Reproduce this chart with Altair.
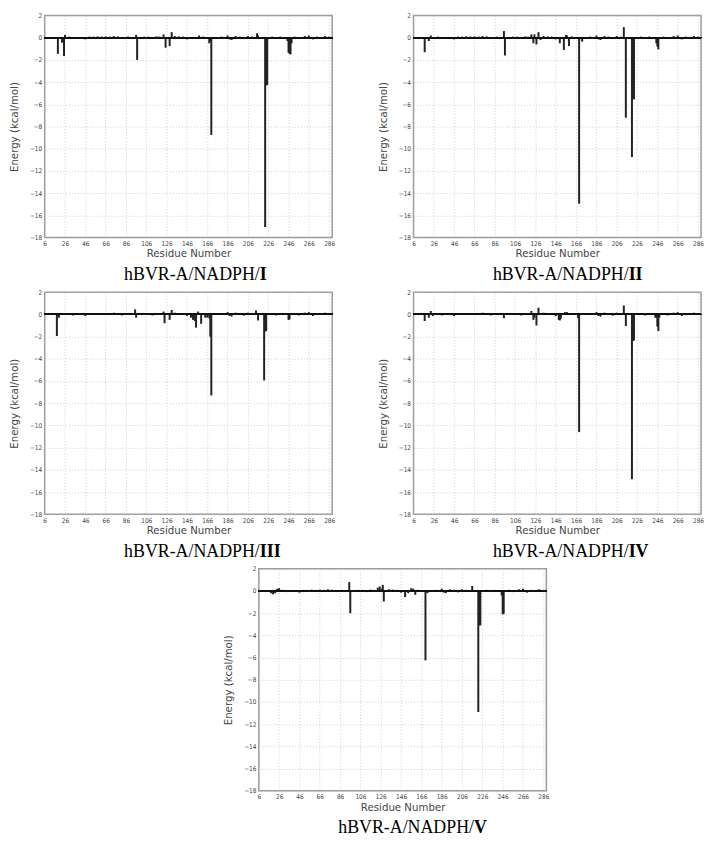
import altair as alt
import pandas as pd

W, H = 290, 224

x_ticks = list(range(6, 287, 20))
y_ticks = list(range(-18, 3, 2))

# small near-zero contributions visible along the baseline (similar in all panels)
small_res = [30, 34, 46, 50, 54, 58, 62, 66, 70, 74, 78, 82, 88, 104, 108, 112, 116, 119,
             134, 138, 142, 146, 162, 180, 186, 188, 190, 194, 198, 202, 206, 210, 230, 234,
             238, 252, 256, 262, 266, 270, 274, 282, 286]
small_e = [0.1, -0.1, -0.15, 0.1, 0.1, 0.12, 0.1, 0.12, 0.1, 0.15, 0.12, -0.1, 0.1, 0.1, 0.1,
           -0.1, 0.12, 0.1, 0.15, 0.12, 0.1, -0.15, 0.1, 0.1, 0.2, -0.15, -0.2, 0.15, 0.1, -0.12,
           0.15, 0.1, 0.1, -0.1, 0.1, 0.1, -0.1, 0.15, 0.2, -0.15, 0.1, 0.15, 0.1]

res1 = [19, 23, 25, 26, 96, 97, 123, 125, 129, 131, 158, 168, 169, 170, 215, 216, 223, 224,
        225, 245, 246, 247, 248, 249]
e1 = [-1.45, -0.45, -1.65, 0.25, 0.25, -2.0, 0.3, -0.9, -0.75, 0.5, 0.2, -0.5, -0.3, -8.75,
      0.4, 0.2, -17.05, -4.3, -4.25, -0.3, -1.35, -1.45, -1.5, -0.5]

res2 = [17, 21, 23, 95, 96, 122, 124, 125, 127, 129, 131, 150, 154, 156, 157, 159, 169, 172,
        213, 215, 221, 222, 223, 245, 246, 247]
e2 = [-1.3, -0.3, 0.2, 0.6, -1.6, 0.3, -0.5, 0.3, -0.6, 0.5, -0.2, -0.5, -1.1, 0.25, 0.2,
      -0.75, -14.95, -0.35, 0.95, -7.2, -10.75, -5.5, -5.55, -0.5, -0.8, -1.05]

res3 = [18, 20, 95, 96, 123, 124, 129, 131, 150, 152, 154, 155, 157, 160, 164, 166, 168, 169,
        170, 214, 216, 222, 223, 224, 246, 247]
e3 = [-1.95, -0.3, 0.45, -0.3, 0.25, -0.8, -0.5, 0.4, -0.3, -0.5, -0.6, -1.2, 0.25, -0.85,
      -0.3, -0.3, -0.35, -2.0, -7.3, 0.35, -0.55, -5.95, -1.55, -1.5, -0.5, -0.45]

res4 = [17, 21, 23, 25, 95, 122, 124, 125, 127, 129, 149, 150, 151, 155, 157, 168, 169, 213,
        215, 221, 222, 223, 244, 245, 246, 247, 248]
e4 = [-0.6, -0.3, 0.3, -0.15, -0.35, 0.3, -0.5, -0.3, -1.0, 0.6, -0.5, -0.55, -0.4, 0.2, 0.2,
      -0.35, -10.6, 0.8, -1.05, -14.85, -2.4, -2.35, -0.3, -0.3, -1.1, -1.5, -0.3]

res5 = [18, 20, 22, 24, 26, 95, 96, 123, 125, 127, 128, 129, 150, 153, 156, 158, 160, 170,
        172, 216, 222, 223, 224, 245, 246, 247]
e5 = [-0.2, -0.3, -0.2, 0.2, 0.25, 0.8, -2.0, 0.3, 0.4, 0.2, 0.55, -0.95, -0.55, -0.2, 0.25,
      0.2, -0.35, -6.25, -0.2, 0.45, -10.9, -3.1, -3.1, -0.4, -2.1, -2.05]

caption_prefix = "hBVR-A/NADPH/"
numerals = ["I", "II", "III", "IV", "V"]

AXIS_FONT = "DejaVu Sans"
TICK_FONT = "DejaVu Sans Condensed, Liberation Sans Narrow, DejaVu Sans"


def panel(res, en, numeral):
    vals = dict(zip(small_res, small_e))
    vals.update(dict(zip(res, en)))
    df = pd.DataFrame({"residue": list(vals.keys()), "energy": list(vals.values())})
    x = alt.X("residue:Q",
              scale=alt.Scale(domain=[6, 289], nice=False, zero=False),
              axis=alt.Axis(values=x_ticks, title="Residue Number", titlePadding=2,
                            labelFlush=False, labelOverlap=False, format="d"))
    y = alt.Y("energy:Q",
              scale=alt.Scale(domain=[-18, 2], nice=False),
              axis=alt.Axis(values=y_ticks, title="Energy (kcal/mol)", titlePadding=10,
                            labelOverlap=False, format="d"))
    bars = alt.Chart(df).mark_rule(color="#222222", strokeWidth=2).encode(
        x=x, y=y, y2=alt.datum(0))
    zero = alt.Chart(df).mark_rule(color="#111111", strokeWidth=1.5).encode(
        y=alt.Y(datum=0, axis=alt.Axis(values=y_ticks, labelOverlap=False, format="d",
                                       title="Energy (kcal/mol)", titlePadding=10)))
    cap = pd.DataFrame({"prefix": [caption_prefix], "num": [numeral]})
    pre = alt.Chart(cap).mark_text(font="Liberation Serif", fontSize=18, align="right",
                                   baseline="alphabetic", color="black").encode(
        x=alt.value(217), y=alt.value(H + 43), text="prefix:N")
    num = alt.Chart(cap).mark_text(font="Liberation Serif", fontSize=18, fontWeight="bold",
                                   align="left", baseline="alphabetic", color="black").encode(
        x=alt.value(217), y=alt.value(H + 43), text="num:N")
    return alt.layer(bars, zero, pre, num).properties(width=W, height=H)


p1 = panel(res1, e1, numerals[0])
p2 = panel(res2, e2, numerals[1])
p3 = panel(res3, e3, numerals[2])
p4 = panel(res4, e4, numerals[3])
p5 = panel(res5, e5, numerals[4])

spacer = alt.Chart(pd.DataFrame({"v": [0]})).mark_point(opacity=0).encode(
    x=alt.value(0), y=alt.value(0)).properties(
    width=178, height=10, view=alt.ViewBackground(stroke="transparent"))

row1 = alt.hconcat(p1, p2, spacing=41)
row2 = alt.hconcat(p3, p4, spacing=41)
row3 = alt.hconcat(spacer, p5, spacing=0)

chart = alt.vconcat(row1, row2, row3, spacing=3).properties(
    padding=0, background="white"
).configure_view(
    stroke="#9a9a9a", strokeWidth=1.5
).configure_axis(
    grid=True, gridColor="#c4c4c4", gridDash=[1, 2], gridWidth=0.8,
    domain=False, ticks=False, labelOverlap=False,
    labelFont=TICK_FONT, labelFontSize=6.5, labelColor="#444444", labelPadding=3,
    titleFont=AXIS_FONT, titleFontSize=10.3, titleColor="#444444", titleFontWeight="normal"
)

chart.save("out.html", embed_options={"renderer": "svg", "actions": False})
